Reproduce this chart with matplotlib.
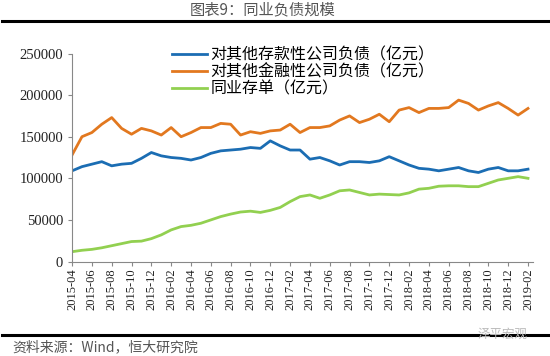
import matplotlib
matplotlib.use("Agg")
import matplotlib.pyplot as plt
from matplotlib.lines import Line2D

plt.rcParams['font.family'] = ['Noto Sans CJK SC', 'DejaVu Sans']
plt.rcParams['font.serif'] = ['Liberation Serif', 'Times New Roman', 'DejaVu Serif']

# monthly data, 2015-04 .. 2019-02 (亿元)
months = [f"{y}-{m:02d}" for y in range(2015, 2020) for m in range(1, 13)]
months = months[months.index("2015-04"):months.index("2019-02") + 1]

deposit_corp = [109000, 114000, 117000, 120000, 115000, 117000, 118000, 124000,
                131000, 127000, 125000, 124000, 122000, 125000, 130000, 133000,
                134000, 135000, 137000, 136000, 145000, 139000, 134000, 134000,
                123000, 125000, 121000, 116000, 120000, 120000, 119000, 121000,
                126000, 121000, 116000, 112000, 111000, 109000, 111000, 113000,
                109000, 107000, 111000, 113000, 109000, 109000, 111000]
finance_corp = [128000, 150000, 155000, 165000, 173000, 160000, 153000, 160000,
                157000, 152000, 161000, 150000, 155000, 161000, 161000, 166000,
                165000, 152000, 156000, 154000, 157000, 158000, 165000, 155000,
                161000, 161000, 163000, 170000, 175000, 167000, 171000, 177000,
                168000, 182000, 185000, 179000, 184000, 184000, 185000, 194000,
                190000, 182000, 187000, 191000, 184000, 176000, 184000]
interbank_cd = [11800, 13500, 14600, 16500, 19000, 21500, 24000, 24500,
                27500, 32000, 38000, 42000, 43500, 46000, 50000, 54000,
                57000, 59500, 60500, 59000, 61500, 65000, 72000, 78000,
                80000, 76000, 80000, 85000, 86000, 83000, 80000, 81000,
                80500, 80000, 82500, 87000, 88000, 90500, 91000, 91000,
                90000, 90000, 94000, 98000, 100000, 102000, 100000]

series_names = ["对其他存款性公司负债（亿元）", "对其他金融性公司负债（亿元）", "同业存单（亿元）"]
colors = ["#1B6DB3", "#E2781F", "#92D050"]
yticks = [0, 50000, 100000, 150000, 200000, 250000]

fig = plt.figure(figsize=(5.5, 3.56), dpi=100)
ax = fig.add_axes([0.131, 0.2654, 0.838, 0.5843])

x = list(range(len(months)))
for vals, c, name in zip([deposit_corp, finance_corp, interbank_cd], colors, series_names):
    ax.plot(x, vals, color=c, lw=2.0, label=name, solid_joinstyle='round')

ax.set_xlim(0, len(months) - 0.5)
ax.set_ylim(0, 250000)
ax.set_yticks(yticks)
ax.set_xticks(x[::2])
ax.tick_params(axis='both', direction='out', length=3, color='#888888', width=0.8)
ax.set_yticklabels([str(v) for v in yticks], fontfamily='serif', fontsize=10.5, color='#222222')
ax.set_xticklabels(months[::2], rotation=90, fontfamily='serif', fontsize=9, color='#222222')
ax.tick_params(axis='x', pad=2)
for s in ['top', 'right']:
    ax.spines[s].set_visible(False)
for s in ['left', 'bottom']:
    ax.spines[s].set_color('#888888')
    ax.spines[s].set_linewidth(0.8)

leg = ax.legend(loc='upper left', bbox_to_anchor=(0.2, 1.07), frameon=False,
                fontsize=11.5, handlelength=2.2, handletextpad=0.2, labelspacing=0.0,
                borderpad=0)
for t in leg.get_texts():
    t.set_color('black')

# header / footer
fig.text(0.477, 0.972, "图表9：同业负债规模", ha='center', va='center', fontsize=11, color='#555555')
fig.add_artist(Line2D([0.004, 0.996], [0.942, 0.942], color='black', lw=2.2, transform=fig.transFigure))
fig.add_artist(Line2D([0.004, 0.996], [0.059, 0.059], color='black', lw=2.2, transform=fig.transFigure))
fig.text(0.022, 0.025, "资料来源：Wind，恒大研究院", ha='left', va='center', fontsize=10, color='#555555')
fig.text(0.96, 0.062, "泽平宏观", ha='right', va='center', fontsize=9, color='#bbbbbb')

fig.savefig("out.png", dpi=100)
